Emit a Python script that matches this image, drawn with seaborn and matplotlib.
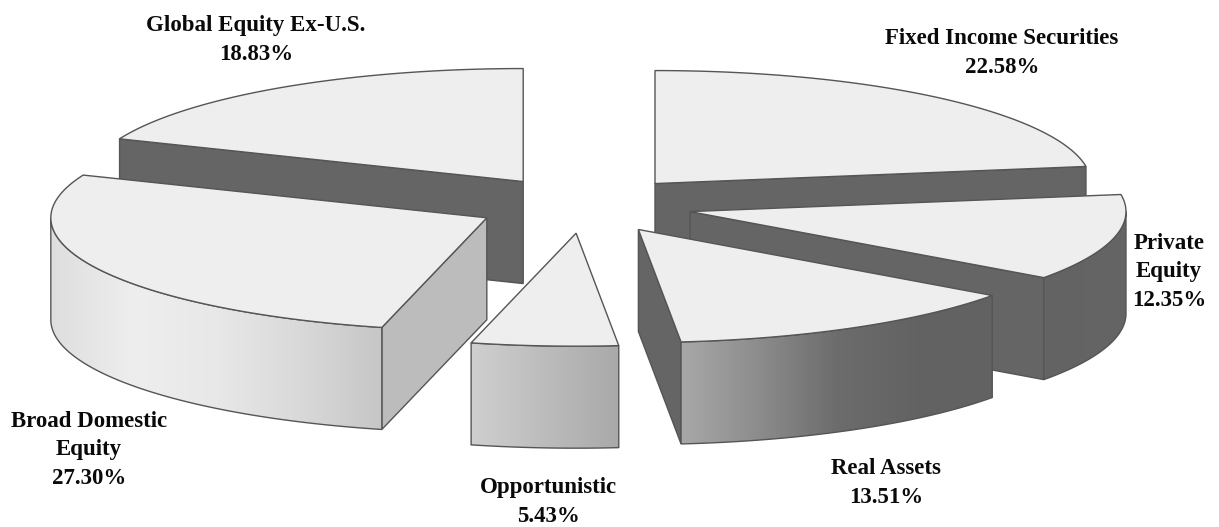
import numpy as np
import matplotlib
matplotlib.use('Agg')
import matplotlib.pyplot as plt
from matplotlib.patches import Polygon
import seaborn as sns

# Data, clockwise from 12 o'clock
categories = ['Fixed Income Securities', 'Private\nEquity', 'Real Assets',
              'Opportunistic', 'Broad Domestic\nEquity', 'Global Equity Ex-U.S.']
values = [22.58, 12.35, 13.51, 5.43, 27.30, 18.83]

# Styling per slice
side_colors = ['#656565', '#656565', '#656565', '#656565', '#bcbcbc', '#656565']
wall_colors = [
    ['#656565', '#656565'],
    ['#636363', '#656565'],
    ['#a8a8a8', '#8c8c8c', '#6c6c6c', '#636363', '#626262'],
    ['#cfcfcf', '#a9a9a9'],
    ['#dedede', '#eeeeee', '#e8e8e8', '#d9d9d9', '#c6c6c6'],
    ['#656565', '#656565'],
]
label_pos = [(1002, 53), (1169, 272), (886, 483), (548, 502), (89, 450), (256, 40)]
draw_order = [5, 0, 1, 4, 2, 3]

# Pie geometry, in pixels
center_x, center_y = 584, 205
radius_x, radius_y = 436, 113
depth = 102
explode = 0.25
top_color = '#eeeeee'
edge_color = '#555555'

sns.set_theme(style='white')
plt.rcParams['font.family'] = ['Liberation Serif', 'DejaVu Serif']

fig, ax = plt.subplots(figsize=(12.19, 5.27), dpi=100)
fig.subplots_adjust(0, 0, 1, 1)
ax.axis('off')

edges = np.concatenate([[0], np.cumsum(values)]) / np.sum(values) * 2 * np.pi


def rim(apex, angles):
    return apex[0] + radius_x * np.sin(angles), apex[1] - radius_y * np.cos(angles)


def draw_side(apex, angle, color, z):
    x, y = rim(apex, np.array([angle]))
    ax.fill([apex[0], x[0], x[0], apex[0]],
            [apex[1], y[0], y[0] + depth, apex[1] + depth],
            facecolor=color, edgecolor=edge_color, linewidth=1, zorder=z)


def draw_wall(apex, start, end, colors, z):
    # outer wall only shows on the front half of the ellipse
    start, end = max(start, np.pi / 2), min(end, 3 * np.pi / 2)
    if end <= start:
        return
    x, y = rim(apex, np.linspace(start, end, 200))
    outline = np.column_stack([np.concatenate([x, x[::-1]]),
                               np.concatenate([y, y[::-1] + depth])])
    gradient = np.array(sns.blend_palette(colors, n_colors=256))[np.newaxis, :, :3]
    image = ax.imshow(gradient, aspect='auto', zorder=z, interpolation='bilinear',
                      extent=(x.min(), x.max(), y.max() + depth, y.min()))
    image.set_clip_path(Polygon(outline, closed=True, transform=ax.transData))
    ax.add_patch(Polygon(outline, closed=True, facecolor='none',
                         edgecolor=edge_color, linewidth=1, zorder=z + 0.1))


z = 1
for i in draw_order:
    start, end = edges[i], edges[i + 1]
    mid = (start + end) / 2
    apex = (center_x + explode * radius_x * np.sin(mid),
            center_y - explode * radius_y * np.cos(mid))
    if np.sin(start) < -1e-6:
        draw_side(apex, start, side_colors[i], z)
    if np.sin(end) > 1e-6:
        draw_side(apex, end, side_colors[i], z)
    draw_wall(apex, start, end, wall_colors[i], z + 0.2)
    x, y = rim(apex, np.linspace(start, end, 200))
    ax.fill(np.concatenate([[apex[0]], x]), np.concatenate([[apex[1]], y]),
            facecolor=top_color, edgecolor=edge_color, linewidth=1, zorder=z + 0.5)
    z += 1

for name, value, (lx, ly) in zip(categories, values, label_pos):
    ax.text(lx, ly, f'{name}\n{value:.2f}%', ha='center', va='center', zorder=20,
            fontsize=16.5, fontweight='bold', color='#0a0a0a', linespacing=1.44)

ax.set_xlim(0, 1219)
ax.set_ylim(527, 0)
fig.savefig('out.png', dpi=100)
